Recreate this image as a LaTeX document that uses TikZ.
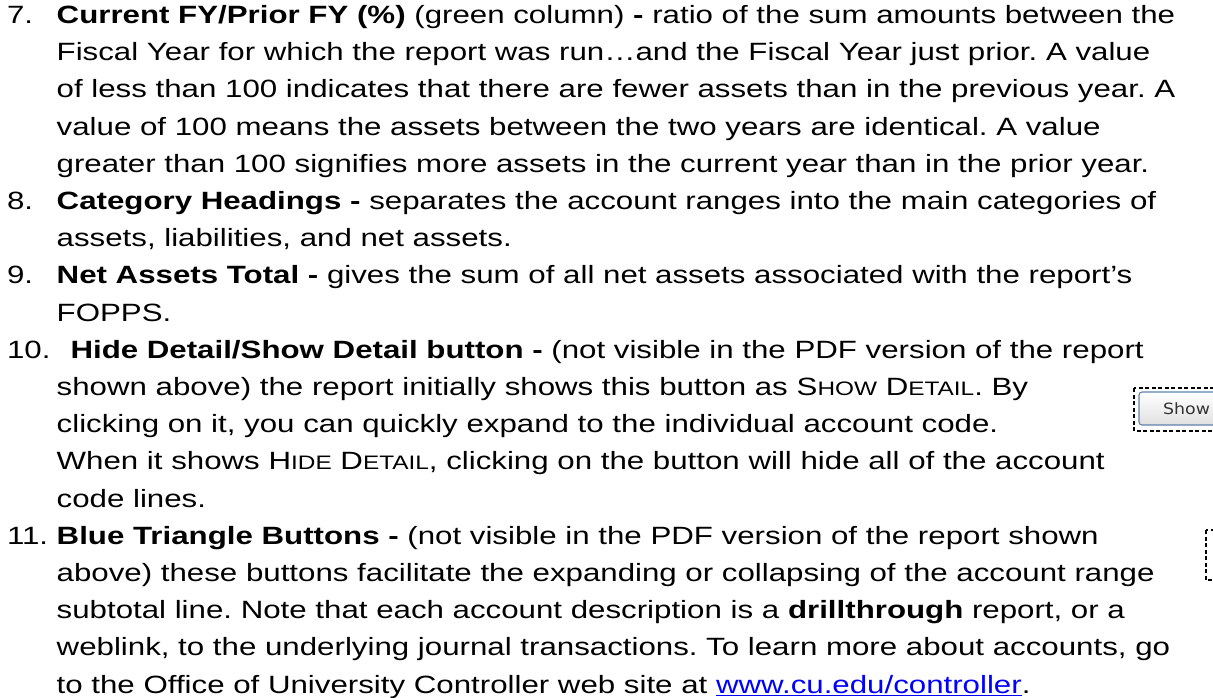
\documentclass[tikz,border=0pt]{standalone}
\usepackage{fontspec}
\setmainfont{Liberation Sans}[FakeStretch=1.25]
\newfontfamily\btnfont{DejaVu Sans}[FakeStretch=1.12]
\usetikzlibrary{shadings}
\definecolor{linkblue}{HTML}{0000FF}
\definecolor{btnborder}{HTML}{5F82AE}
\definecolor{btntext}{HTML}{333333}
\newcommand{\smc}[1]{{\fontsize{19.5}{20}\selectfont #1}}
\newcommand{\weblink}[1]{\textcolor{linkblue}{\underline{#1}}}
\frenchspacing
\tikzset{
  txt/.style={anchor=base west, inner sep=0pt, outer sep=0pt,
    font=\fontsize{25}{37.2}\selectfont\frenchspacing},
  dashbox/.style={draw=black, line width=1.3pt, dash pattern=on 4pt off 2.5pt},
  btn/.style={draw=btnborder, line width=1.1pt, rounded corners=3pt,
    top color=white, bottom color=black!12},
}
\begin{document}
\begin{tikzpicture}[x=1pt,y=1pt]
\useasboundingbox (0,0) rectangle (1213,-698);
\clip (0,0) rectangle (1213,-698);
% item 7
\node[txt] (n7) at (7,-23.5) {7.};
\node[txt] (a1) at (56.7,-23.5) {\textbf{Current FY/Prior FY (\%)} (green column) \textbf{-} ratio of the sum amounts between the};
\node[txt] (a2) at (56.7,-60.7) {Fiscal Year for which the report was run…and the Fiscal Year just prior. A value};
\node[txt] (a3) at (56.7,-97.9) {of less than 100 indicates that there are fewer assets than in the previous year. A};
\node[txt] (a4) at (56.7,-135.1) {value of 100 means the assets between the two years are identical. A value};
\node[txt] (a5) at (56.7,-172.3) {greater than 100 signifies more assets in the current year than in the prior year.};
% item 8
\node[txt] (n8) at (7,-209.5) {8.};
\node[txt] (b1) at (56.7,-209.5) {\textbf{Category Headings -} separates the account ranges into the main categories of};
\node[txt] (b2) at (56.7,-246.7) {assets, liabilities, and net assets.};
% item 9
\node[txt] (n9) at (7,-283.9) {9.};
\node[txt] (c1) at (56.7,-283.9) {\textbf{Net Assets Total -} gives the sum of all net assets associated with the report’s};
\node[txt] (c2) at (56.7,-321.1) {FOPPS.};
% item 10
\node[txt] (n10) at (7,-358.3) {10.};
\node[txt] (d1) at (70.5,-358.3) {\textbf{Hide Detail/Show Detail button -} (not visible in the PDF version of the report};
\node[txt] (d2) at (56.7,-395.5) {shown above) the report initially shows this button as S\smc{HOW} D\smc{ETAIL}. By};
\node[txt] (d3) at (56.7,-432.7) {clicking on it, you can quickly expand to the individual account code.};
\node[txt] (d4) at (56.7,-469.9) {When it shows H\smc{IDE} D\smc{ETAIL}, clicking on the button will hide all of the account};
\node[txt] (d5) at (56.7,-507.1) {code lines.};
% item 11
\node[txt] (n11) at (7,-544.3) {11.};
\node[txt] (e1) at (56.7,-544.3) {\textbf{Blue Triangle Buttons -} (not visible in the PDF version of the report shown};
\node[txt] (e2) at (56.7,-581.5) {above) these buttons facilitate the expanding or collapsing of the account range};
\node[txt] (e3) at (56.7,-618.7) {subtotal line. Note that each account description is a \textbf{drillthrough} report, or a};
\node[txt] (e4) at (56.7,-655.9) {weblink, to the underlying journal transactions. To learn more about accounts, go};
\node[txt] (e5) at (56.7,-693.1) {to the Office of University Controller web site at \weblink{www.cu.edu/controller}.};
% Show Detail button inset
\draw[dashbox] (1134,-388) rectangle (1222,-431);
\draw[btn] (1139,-392) rectangle (1230,-425);
\node[anchor=west, inner sep=0pt, text=btntext, font=\btnfont\fontsize{15.5}{17}\selectfont] (show) at (1163,-408.5) {Show};
% blue triangle button inset
\draw[dashbox] (1206,-530) rectangle (1222,-580);
\end{tikzpicture}
\end{document}
